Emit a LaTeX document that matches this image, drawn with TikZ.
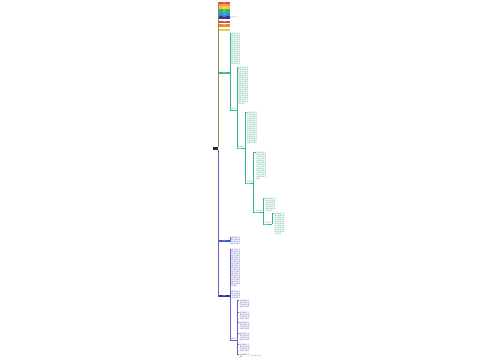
\documentclass[tikz,border=0pt]{standalone}
\usepackage{fontspec}
\newfontfamily\cjk{Noto Sans CJK SC}
\XeTeXlinebreaklocale "zh"
\XeTeXlinebreakskip=0pt plus 0.5pt
\usetikzlibrary{positioning}

\definecolor{trunk}{HTML}{9C8442}
\definecolor{rootc}{HTML}{2B2B2B}
\definecolor{grn}{HTML}{35B886}
\definecolor{grntxt}{HTML}{3FA383}
\definecolor{blu}{HTML}{3C5BC4}
\definecolor{dblu}{HTML}{2E3296}
\definecolor{purp}{HTML}{6A5FC2}
\definecolor{blutxt}{HTML}{5558B0}
\definecolor{c1}{HTML}{E8453C}
\definecolor{c2}{HTML}{F29B36}
\definecolor{c3}{HTML}{F2C744}
\definecolor{c4}{HTML}{4CB050}
\definecolor{c5}{HTML}{22B39A}
\definecolor{c6}{HTML}{2E86DE}
\definecolor{c7}{HTML}{2C3A9A}
\definecolor{c8}{HTML}{E0463F}
\definecolor{c9}{HTML}{E8873A}
\definecolor{c10}{HTML}{F2C744}

\newcommand\filltxt[1]{\foreach\k in {1,...,#1}{内容说明文字要点}}

\tikzset{
  topic/.style={fill=#1, text=white, anchor=west, inner sep=0.3pt, minimum width=11pt, minimum height=2.4pt, font=\cjk\fontsize{1.3}{1.5}\selectfont},
  note/.style={text=#1, anchor=north west, inner sep=0.3pt, text width=10.2pt, align=left, font=\cjk\fontsize{1.6}{2.0}\selectfont},
  tag/.style={text=#1, anchor=south west, inner sep=0.3pt, font=\cjk\fontsize{1.5}{1.8}\selectfont},
  gline/.style={draw=grn, line width=0.4pt},
  bline/.style={draw=purp, line width=0.4pt},
}

\begin{document}
\begin{tikzpicture}[x=1pt,y=-1pt]
\useasboundingbox (0,0) rectangle (500,360);
\node[fill=rootc, minimum width=5pt, minimum height=3pt, inner sep=0pt, anchor=east] (root) at (218,148.5) {};

% upper topics
\foreach \c/\y [count=\i] in {c1/2.7,c2/5.2,c3/7.6,c4/10,c5/12.4,c6/14.8,c7/17.4,c8/22,c9/25.4,c10/29.8} {
  \node[topic=\c] (t\i) at (218.6,\y) {主题};
  \draw[trunk, line width=0.5pt] (root.north east) |- (t\i.west);
}
\node[right=0.3pt of t7, text=c6!60, font=\cjk\fontsize{1.3}{1.6}\selectfont, align=left, inner sep=0pt] (t7n) {内容说明文字\\要点};

% green branch
\node[topic=grn] (g1) at (218.6,73) {主题};
\draw[trunk, line width=0.5pt] (root.north east) |- (g1.west);
\node[note=grntxt] (gt1) at (229.8,33) {\filltxt{12}};
\node[tag=grntxt] (gl1) at (229.8,110) {标签文字};
\draw[gline] (g1.east) -| (gt1.north west);
\draw[gline] (g1.east) -| (gl1.south west) -- (gl1.south east);

\node[note=grntxt] (gt2) at (237.8,67) {\filltxt{14}};
\node[tag=grntxt] (gl2) at (237.8,148) {标签文字};
\draw[gline] (gl1.south east) |- (gt2.north west);
\draw[gline] (gl1.south east) |- (gl2.south west) -- (gl2.south east);

\node[note=grntxt] (gt3) at (246.6,112) {\filltxt{12}};
\node[tag=grntxt] (gl3) at (246.6,183) {标签文字};
\draw[gline] (gl2.south east) |- (gt3.north west);
\draw[gline] (gl2.south east) |- (gl3.south west) -- (gl3.south east);

\node[note=grntxt] (gt4) at (255.8,152) {\filltxt{10}};
\node[tag=grntxt] (gl4) at (255.8,212) {标签文字};
\draw[gline] (gl3.south east) |- (gt4.north west);
\draw[gline] (gl3.south east) |- (gl4.south west) -- (gl4.south east);

\node[note=grntxt] (gt5) at (265,198) {\filltxt{5}};
\node[tag=grntxt] (gl5) at (265,224) {标签文字};
\draw[gline] (gl4.south east) |- (gt5.north west);
\draw[gline] (gl4.south east) |- (gl5.south west) -- (gl5.south east);

\node[note=grntxt] (gt6) at (274.2,213) {\filltxt{8}};
\draw[gline] (gl5.south east) |- (gt6.north west);

% blue branch
\node[topic=blu] (b1) at (218.6,241) {主题};
\node[topic=dblu] (b2) at (218.6,296) {主题};
\draw[bline] (root.south east) |- (b1.west);
\draw[bline] (root.south east) |- (b2.west);

\node[note=blutxt] (bt1) at (229.8,237) {\filltxt{3}};
\draw[bline] (b1.east) -| (bt1.north west);

\node[note=blutxt] (bt2) at (229.8,249) {\filltxt{14}};
\node[note=blutxt] (bt3) at (229.8,291) {\filltxt{3}};
\node[tag=blutxt] (bl1) at (229.8,340) {标签文字};
\draw[bline] (b2.east) -| (bt2.north west);
\draw[bline] (b2.east) -| (bt3.north west);
\draw[bline] (b2.east) -| (bl1.south west) -- (bl1.south east);

\foreach \y/\n [count=\i] in {300/3,312/3,322/3,333/3,344/3,354/1} {
  \node[note=blutxt] (bc\i) at (239,\y) {\filltxt{\n}};
  \draw[bline] (bl1.south east) |- (bc\i.north west);
}
\node[right=0.5pt of bc6, text=gray, font=\cjk\fontsize{1.3}{1.5}\selectfont, inner sep=0pt] (memo) {内容说明文字要点};
\end{tikzpicture}
\end{document}
